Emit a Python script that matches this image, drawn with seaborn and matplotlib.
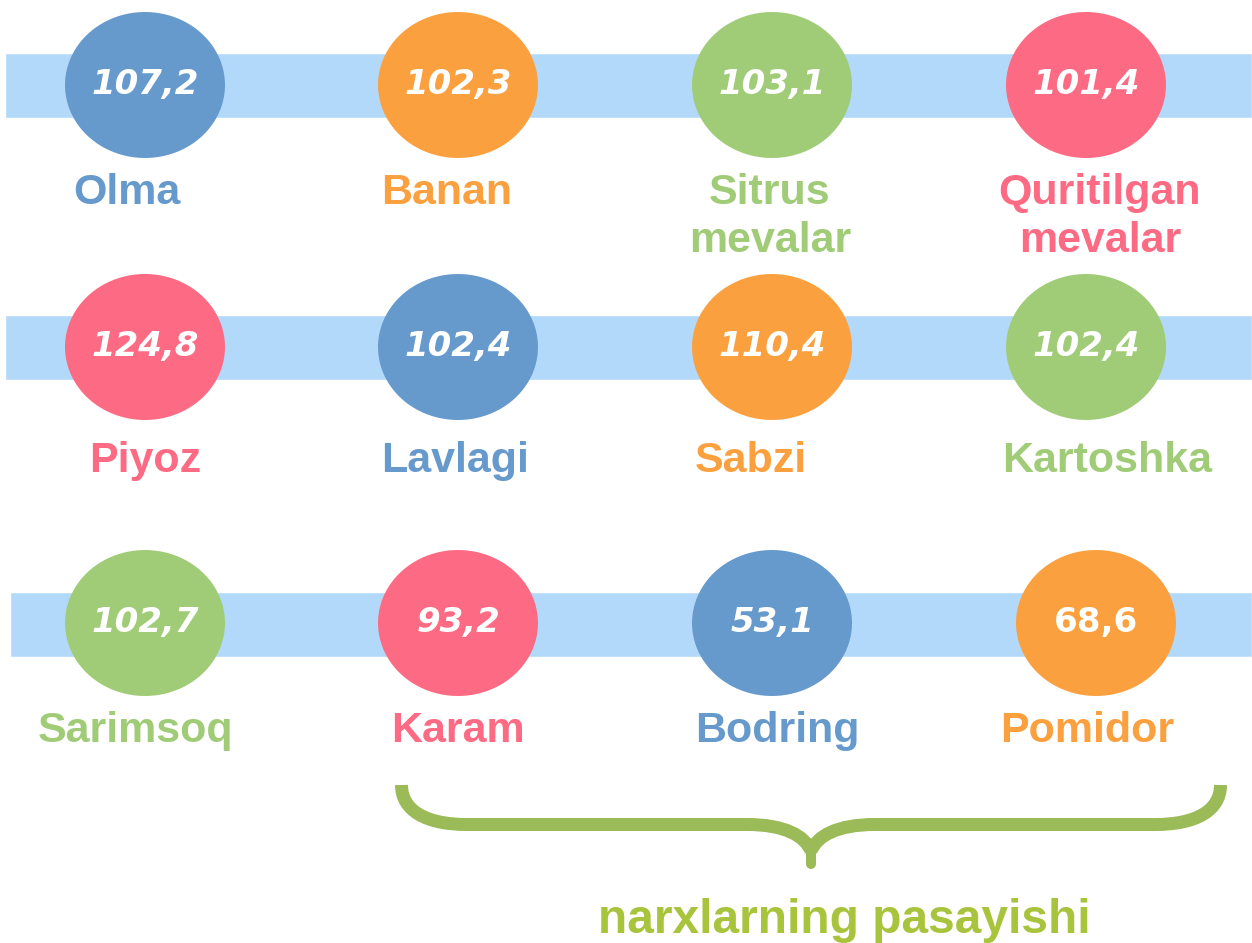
import numpy as np
import pandas as pd
import matplotlib
matplotlib.use("Agg")
import matplotlib.pyplot as plt
from matplotlib.path import Path
from matplotlib.patches import PathPatch
from matplotlib.markers import MarkerStyle
import seaborn as sns

# ==============================
# Data
# ==============================
products = ["Olma", "Banan", "Sitrus\nmevalar", "Quritilgan\nmevalar",
            "Piyoz", "Lavlagi", "Sabzi", "Kartoshka",
            "Sarimsoq", "Karam", "Bodring", "Pomidor"]
price_index = [107.2, 102.3, 103.1, 101.4,
               124.8, 102.4, 110.4, 102.4,
               102.7, 93.2, 53.1, 68.6]
color_group = ["blue", "orange", "green", "pink",
               "pink", "blue", "orange", "green",
               "green", "pink", "blue", "orange"]
brace_label = "narxlarning pasayishi"

# ==============================
# Layout (pixel coordinates)
# ==============================
circle_x = [145, 458, 772, 1086,
            145, 458, 772, 1086,
            145, 458, 772, 1096]
row_y = [85, 347, 623]
row_of = [0] * 4 + [1] * 4 + [2] * 4
label_x = [127, 447, 770, 1100,
           145, 455, 751, 1107,
           136, 458, 777, 1087]
label_base = [204, 472, 742]
band_left = [5, 5, 10]
band_y = [85.5, 347, 624.5]
number_style = ["italic"] * 11 + ["normal"]

palette = {"blue": "#6699cc", "orange": "#fba03f",
           "green": "#a0cc78", "pink": "#fc6a83"}
band_color = "#b3d9fa"

df = pd.DataFrame({
    "product": products,
    "value": price_index,
    "group": color_group,
    "x": circle_x,
    "y": [row_y[r] for r in row_of],
})

sns.set_theme(style="white")

fig, ax = plt.subplots(figsize=(12.52, 9.43), dpi=100)
ax.set_position([0, 0, 1, 1])
ax.set_xlim(0, 1252)
ax.set_ylim(943, 0)
ax.axis("off")

# bands
ax.barh(band_y, [1252 - l for l in band_left], left=band_left, height=65,
        color=band_color, zorder=1)

# circles (slightly wider than tall)
t = np.linspace(0, 2 * np.pi, 100)
ellipse = MarkerStyle(Path(np.column_stack([np.cos(t), 0.9125 * np.sin(t)])))
size_pt = 160 * 72 / 100
sns.scatterplot(data=df, x="x", y="y", hue="group", palette=palette,
                marker=ellipse, s=size_pt ** 2, linewidth=0,
                legend=False, ax=ax, zorder=2)
ax.set_xlabel("")
ax.set_ylabel("")

# values and names
for i, row in df.iterrows():
    txt = f"{row['value']:.1f}".replace(".", ",")
    ax.text(row["x"], row["y"] + 9, txt, ha="center", va="baseline",
            fontsize=24.5, fontweight="bold", style=number_style[i],
            family="DejaVu Sans", color="white", zorder=3)
    base = label_base[row_of[i]]
    for k, line in enumerate(row["product"].split("\n")):
        ax.text(label_x[i], base + 48 * k, line, ha="center", va="baseline",
                fontsize=31, fontweight="bold", family="Liberation Sans",
                color=palette[row["group"]], zorder=3)

# brace
def half_brace(sign):
    c = 811
    pts = [(401.5, 785), (401.5, 810), (425, 824.5), (467, 824.5),
           (747, 824.5), (785, 824.5), (805, 836), (811, 851)]
    pts = [(c + sign * (x - c), y) for x, y in pts]
    codes = [Path.MOVETO, Path.CURVE4, Path.CURVE4, Path.CURVE4,
             Path.LINETO, Path.CURVE4, Path.CURVE4, Path.CURVE4]
    return Path(pts, codes)

for s in (1, -1):
    ax.add_patch(PathPatch(half_brace(s), fill=False, edgecolor="#9bbb59",
                           linewidth=13 * 0.72, capstyle="butt", zorder=2))
ax.plot([811, 811], [846, 864], color="#9bbb59", linewidth=10 * 0.72,
        solid_capstyle="round", zorder=2)

ax.text(844, 933, brace_label, ha="center", va="baseline", fontsize=34.5,
        fontweight="bold", family="Liberation Sans", color="#a8c43c")

fig.savefig("out.png", dpi=100)
